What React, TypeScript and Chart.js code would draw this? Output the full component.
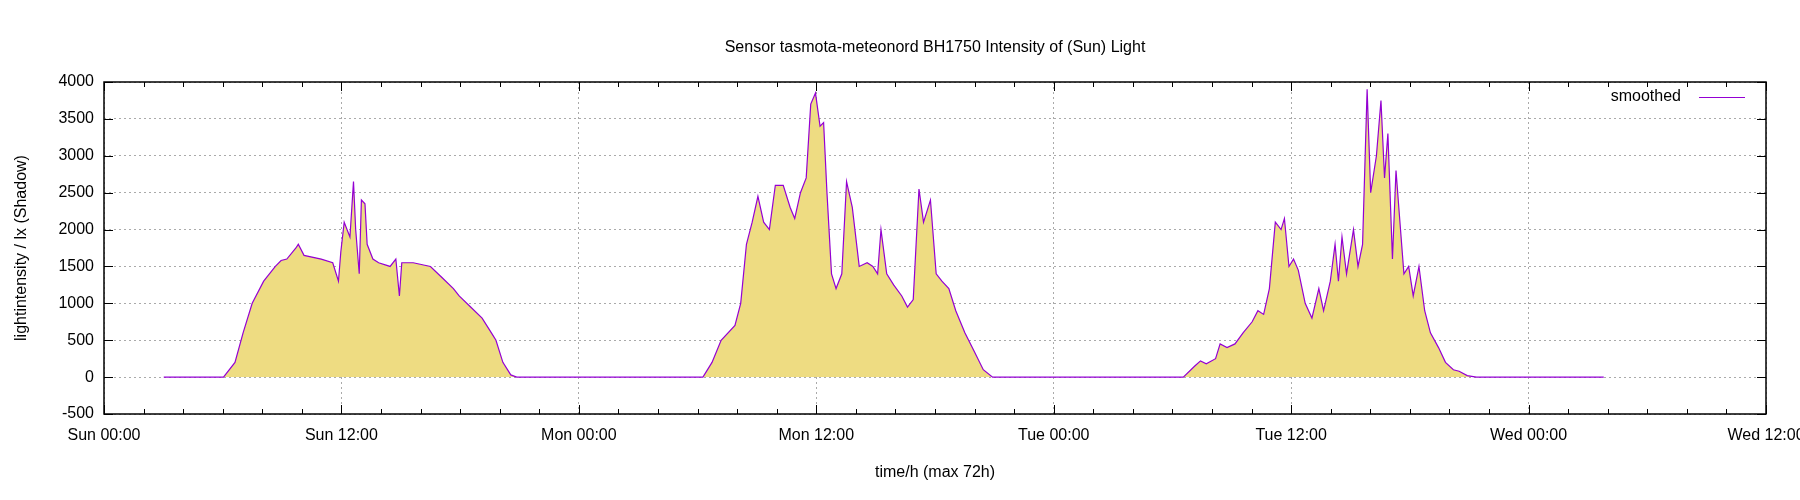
import React, { useEffect, useRef } from "react";
import { Chart, registerables } from "chart.js";
Chart.register(...registerables);

const hours: number[] = [
  3.02, 6.04, 6.62, 7.03, 7.49, 8.07, 8.66, 8.95, 9.24, 9.7, 9.82, 10.11, 10.98, 11.56, 11.85, 11.97, 12.14, 12.43, 12.61, 12.72, 12.9, 13.01, 13.19, 13.3, 13.59, 13.88, 14.46, 14.75, 14.93, 15.05, 15.63, 16.5, 17.08, 17.66, 17.95, 18.53, 19.11, 19.58, 19.81, 20.16, 20.56, 20.86,
  30.27, 30.73, 31.19, 31.89, 32.18, 32.47, 32.76, 33.05, 33.34, 33.63, 33.93, 34.33, 34.68, 34.91, 35.2, 35.49, 35.72, 35.96, 36.19, 36.37, 36.54, 36.77, 37.0, 37.29, 37.53, 37.82, 38.17, 38.57, 38.86, 39.1, 39.27, 39.56, 39.91, 40.32, 40.61, 40.9, 41.19, 41.42, 41.77, 42.06, 42.35, 42.7, 43.05, 43.51, 43.98, 44.44, 44.91,
  54.55, 55.13, 55.42, 55.71, 56.18, 56.41, 56.76, 57.16, 57.57, 58.03, 58.32, 58.61, 58.9, 59.2, 59.49, 59.66, 59.89, 60.12, 60.36, 60.71, 61.05, 61.4, 61.64, 61.98, 62.22, 62.39, 62.57, 62.8, 63.15, 63.38, 63.61, 63.84, 64.02, 64.31, 64.54, 64.72, 64.89, 65.12, 65.3, 65.47, 65.7, 65.94, 66.17, 66.46, 66.75, 67.04, 67.45, 67.8, 68.2, 68.49, 68.9, 69.36, 75.8,
];
const lux: number[] = [
  0, 0, 200, 600, 1000, 1300, 1500, 1580, 1600, 1750, 1800, 1650, 1600, 1550, 1300, 1700, 2100, 1900, 2650, 2000, 1400, 2400, 2350, 1800, 1600, 1550, 1500, 1600, 1100, 1550, 1550, 1500, 1350, 1200, 1100, 950, 800, 600, 500, 200, 30, 0,
  0, 200, 500, 700, 1000, 1800, 2100, 2450, 2100, 2000, 2600, 2600, 2300, 2150, 2500, 2700, 3700, 3850, 3400, 3450, 2500, 1400, 1200, 1400, 2650, 2300, 1500, 1550, 1500, 1400, 2000, 1400, 1250, 1100, 950, 1050, 2550, 2100, 2400, 1400, 1300, 1200, 900, 600, 350, 100, 0,
  0, 150, 220, 180, 250, 450, 400, 450, 600, 750, 900, 850, 1200, 2100, 2000, 2150, 1500, 1600, 1450, 1000, 800, 1200, 900, 1300, 1800, 1300, 1900, 1400, 2000, 1500, 1800, 3900, 2500, 3000, 3750, 2700, 3300, 1600, 2800, 2200, 1400, 1500, 1100, 1500, 900, 600, 400, 200, 100, 80, 20, 0, 0,
];
const dayLabels: string[] = ["Sun 00:00", "Sun 12:00", "Mon 00:00", "Mon 12:00", "Tue 00:00", "Tue 12:00", "Wed 00:00", "Wed 12:00"];
const FONT = "'Liberation Sans', Arial, sans-serif";

export default function App() {
  const ref = useRef<HTMLCanvasElement>(null);
  useEffect(() => {
    const overlay = {
      id: "overlay",
      afterDraw(chart: any) {
        const { ctx, chartArea: a, scales } = chart;
        ctx.save();
        ctx.strokeStyle = "#000";
        ctx.lineWidth = 1;
        ctx.beginPath();
        for (let h = 0; h <= 84; h += 2) {
          const x = Math.round(scales.x.getPixelForValue(h)) + 0.5;
          const len = h % 12 === 0 ? 9 : 5;
          ctx.moveTo(x, a.bottom); ctx.lineTo(x, a.bottom - len);
          ctx.moveTo(x, a.top); ctx.lineTo(x, a.top + len);
        }
        for (let v = -500; v <= 4000; v += 500) {
          const y = Math.round(scales.y.getPixelForValue(v)) + 0.5;
          ctx.moveTo(a.left, y); ctx.lineTo(a.left + 9, y);
          ctx.moveTo(a.right, y); ctx.lineTo(a.right - 9, y);
        }
        ctx.stroke();
        ctx.lineWidth = 1.5;
        ctx.strokeRect(a.left, a.top, a.right - a.left, a.bottom - a.top);
        ctx.fillStyle = "#000";
        ctx.font = `16px ${FONT}`;
        ctx.textAlign = "center";
        ctx.textBaseline = "middle";
        ctx.fillText("Sensor tasmota-meteonord BH1750 Intensity of (Sun) Light", (a.left + a.right) / 2, 48);
        ctx.textAlign = "right";
        ctx.fillText("smoothed", 1681, 97);
        ctx.strokeStyle = "#9400d3";
        ctx.lineWidth = 1;
        ctx.beginPath();
        ctx.moveTo(1699, 97.5); ctx.lineTo(1745, 97.5);
        ctx.stroke();
        ctx.restore();
      },
    };
    const chart = new Chart(ref.current!, {
      type: "line",
      data: {
        datasets: [{
          data: hours.map((h, i) => ({ x: h, y: lux[i] })),
          borderColor: "#9400d3",
          borderWidth: 1.2,
          backgroundColor: "#eedc82",
          fill: "origin",
          pointRadius: 0,
          tension: 0,
        }],
      },
      options: {
        animation: false,
        responsive: false,
        maintainAspectRatio: false,
        layout: { padding: { top: 82, right: 34, left: 8, bottom: 14 } },
        plugins: { legend: { display: false }, title: { display: false }, tooltip: { enabled: false } },
        scales: {
          x: {
            type: "linear", min: 0, max: 84,
            afterFit: (s: any) => { s.height = 72; s.paddingRight = 0; s.paddingLeft = 0; },
            afterBuildTicks: (s: any) => { s.ticks = dayLabels.map((_, i) => ({ value: i * 12 })); },
            ticks: {
              color: "#000", font: { size: 16, family: FONT }, maxRotation: 0, padding: 12,
              callback: (v: any) => dayLabels[Math.round(Number(v) / 12)] ?? "",
            },
            grid: { color: "#aaa", drawTicks: false, lineWidth: 1 },
            border: { display: false, dash: [2, 3] },
            title: { display: true, text: "time/h (max 72h)", color: "#000", font: { size: 16, family: FONT }, padding: { top: 0 } },
          },
          y: {
            min: -500, max: 4000,
            afterFit: (s: any) => { s.width = 96; },
            ticks: { stepSize: 500, color: "#000", font: { size: 16, family: FONT }, padding: 10, callback: (v: any) => String(v) },
            grid: { color: "#aaa", drawTicks: false, lineWidth: 1 },
            border: { display: false, dash: [2, 3] },
            title: { display: true, text: "lightintensity / lx (Shadow)", color: "#000", font: { size: 16, family: FONT }, padding: { bottom: 4 } },
          },
        },
      },
      plugins: [overlay],
    } as any);
    return () => chart.destroy();
  }, []);
  return (
    <div style={{ position: "absolute", left: 0, top: 0, width: 1800, height: 500, background: "#fff" }}>
      <canvas ref={ref} width={1800} height={500} style={{ width: 1800, height: 500 }} />
    </div>
  );
}
